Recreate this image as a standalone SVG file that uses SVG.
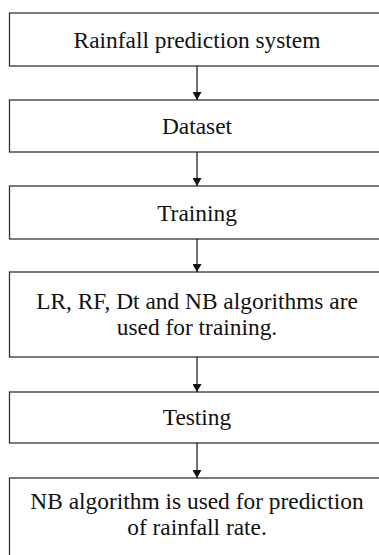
<svg xmlns="http://www.w3.org/2000/svg" width="379" height="555" viewBox="0 0 379 555">
  <style>
    .box { fill: #ffffff; stroke: #333333; stroke-width: 1.3; }
    .lbl { font-size: 23.4px; fill: #111111; text-anchor: middle; }
    .edge { stroke: #111111; stroke-width: 1.2; fill: none; }
  </style>
  <defs>
    <marker id="arrow" viewBox="0 0 8 9" refX="8" refY="4.5" markerWidth="8" markerHeight="9" markerUnits="userSpaceOnUse" orient="auto">
      <path d="M0,0 L8,4.5 L0,9 Z" fill="#111111"/>
    </marker>
  </defs>
  <rect width="379" height="555" fill="#ffffff"/>

  <g font-family="Liberation Serif, Times New Roman, DejaVu Serif, serif">
    <g id="n1">
      <rect class="box" x="9.5" y="13" width="376" height="53"/>
      <text class="lbl" x="197" y="47.5">Rainfall prediction system</text>
    </g>
    <g id="n2">
      <rect class="box" x="9.5" y="100" width="376" height="52"/>
      <text class="lbl" x="197" y="134">Dataset</text>
    </g>
    <g id="n3">
      <rect class="box" x="9.5" y="186" width="376" height="53"/>
      <text class="lbl" x="197" y="220.5">Training</text>
    </g>
    <g id="n4">
      <rect class="box" x="9.5" y="272" width="376" height="85"/>
      <text class="lbl" x="197" y="308.5">LR, RF, Dt and NB algorithms are</text>
      <text class="lbl" x="197" y="335">used for training.</text>
    </g>
    <g id="n5">
      <rect class="box" x="9.5" y="392" width="376" height="51"/>
      <text class="lbl" x="197" y="425">Testing</text>
    </g>
    <g id="n6">
      <rect class="box" x="9.5" y="478" width="376" height="90"/>
      <text class="lbl" x="197" y="508.5">NB algorithm is used for prediction</text>
      <text class="lbl" x="197" y="535">of rainfall rate.</text>
    </g>
  </g>

  <g id="connectors">
    <line class="edge" x1="197" y1="66" x2="197" y2="100" marker-end="url(#arrow)"/>
    <line class="edge" x1="197" y1="152" x2="197" y2="186" marker-end="url(#arrow)"/>
    <line class="edge" x1="197" y1="239" x2="197" y2="272" marker-end="url(#arrow)"/>
    <line class="edge" x1="197" y1="357" x2="197" y2="392" marker-end="url(#arrow)"/>
    <line class="edge" x1="197" y1="443" x2="197" y2="478" marker-end="url(#arrow)"/>
  </g>
</svg>
